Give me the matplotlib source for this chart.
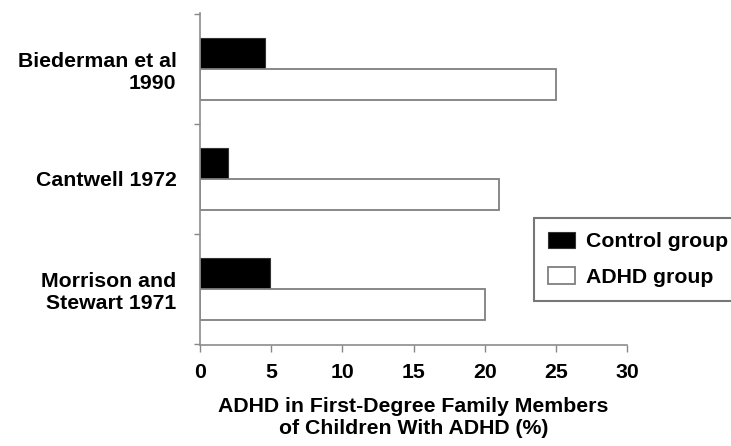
import matplotlib
matplotlib.use("Agg")
import matplotlib.pyplot as plt
import numpy as np

studies = ["Biederman et al\n1990", "Cantwell 1972", "Morrison and\nStewart 1971"]
control = [4.6, 2.0, 4.9]
adhd = [25.0, 21.0, 20.0]
xticks = [0, 5, 10, 15, 20, 25, 30]

plt.rcParams["font.family"] = "Liberation Sans"
plt.rcParams["font.weight"] = "bold"
fs = 15.3

fig = plt.figure(figsize=(7.31, 4.46), dpi=100)
ax = fig.add_axes([200 / 731, 1 - 345 / 446, 427 / 731, 332 / 446])

pos = np.arange(len(studies))
h = 0.28
ax.barh(pos - h / 2, control, height=h, color="black", edgecolor="#333333",
        linewidth=0.8, label="Control group")
ax.barh(pos + h / 2, adhd, height=h, color="white", edgecolor="#7f7f7f",
        linewidth=1.3, label="ADHD group")

ax.set_xlim(0, 30)
ax.set_ylim(2.51, -0.51)
ax.set_xticks(xticks)
ax.set_xticklabels([str(t) for t in xticks], fontsize=fs, fontweight="bold")

# ticks on the category boundaries, labels in between
ax.set_yticks([-0.5, 0.5, 1.5, 2.5])
ax.set_yticklabels([])
ax.set_yticks(pos, minor=True)
ax.set_yticklabels(studies, minor=True, fontsize=fs, fontweight="bold",
                   ha="right", multialignment="right")
ax.tick_params(axis="y", which="minor", length=0, pad=17)
ax.tick_params(axis="y", which="major", length=4, color="#888888", width=1)
ax.tick_params(axis="x", length=5, color="#888888", width=1, pad=8)

for s in ["top", "right"]:
    ax.spines[s].set_visible(False)
for s in ["left", "bottom"]:
    ax.spines[s].set_color("#8c8c8c")
    ax.spines[s].set_linewidth(1.2)

ax.set_xlabel("ADHD in First-Degree Family Members\nof Children With ADHD (%)",
              fontsize=fs, fontweight="bold", labelpad=11, linespacing=1.15)

fig.legend(loc="upper left", bbox_to_anchor=(534 / 731, 1 - 218 / 446),
           borderaxespad=0, frameon=True, fancybox=False, edgecolor="#777777",
           prop={"size": fs, "weight": "bold"}, handlelength=1.3,
           handleheight=0.8, handletextpad=0.5, labelspacing=0.75,
           borderpad=0.65, framealpha=1)
fig.legends[0].get_frame().set_linewidth(1.5)

fig.savefig("out.png", dpi=100, facecolor="white")
